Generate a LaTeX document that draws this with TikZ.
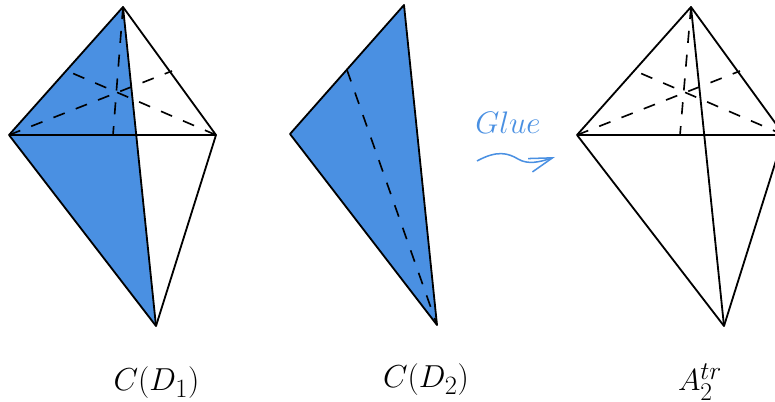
\documentclass[tikz,border=0pt]{standalone}
\usepackage{amsmath}
\usepackage{xcolor}
\usetikzlibrary{arrows.meta}
\definecolor{glueblue}{HTML}{4A90E2}

\begin{document}
\begin{tikzpicture}[
  x=0.03cm, y=-0.03cm,
  edge/.style  = {line width=1.55pt, line join=round},
  hidden/.style = {line width=1.4pt, dash pattern=on 10.3pt off 10.1pt},
  face/.style  = {fill=glueblue},
  lab/.style   = {font=\Huge, inner sep=0pt, transform shape, scale=1.09},
]
\clip (0,0) rectangle (775,402);

% first pyramid
\coordinate (top1)   at (123,7);
\coordinate (left1)  at (9,135);
\coordinate (right1) at (216,135);
\coordinate (bot1)   at (156,326);
\coordinate (foot1)  at (113,135);
\coordinate (backl1) at (72,73);
\coordinate (backr1) at (172,71);
\fill[face] (left1) -- (top1) -- (bot1) -- cycle;
\draw[hidden] (top1) -- (foot1);
\draw[hidden] (left1) -- (backr1);
\draw[hidden] (right1) -- (backl1);
\draw[edge] (left1) -- (top1) -- (right1) -- (bot1) -- cycle;
\draw[edge] (left1) -- (right1);
\draw[edge] (top1) -- (bot1);
\node[lab] (cd1) at (156.5,383) {$C(D_1)$};

% the cut piece
\coordinate (top2)  at (404,5);
\coordinate (left2) at (290,134);
\coordinate (bot2)  at (437,325);
\coordinate (back2) at (347,70);
\fill[face] (left2) -- (top2) -- (bot2) -- cycle;
\draw[hidden] (back2) -- (bot2);
\draw[edge] (left2) -- (top2) -- (bot2) -- cycle;
\node[lab] (cd2) at (426,380) {$C(D_2)$};

% glue arrow
\node[lab, scale=0.98, text=glueblue] (glue) at (508,123) {$Glue$};
\coordinate (gluea) at (477,161);
\coordinate (glueb) at (555,157);
\draw[glueblue, line width=1.3pt, -{Straight Barb[length=20pt,width=12pt]}]
  (gluea) .. controls (497,150) and (508,153) .. (518,159)
          .. controls (528,165) and (540,162) .. (glueb);

% result
\coordinate (top3)   at (691,7);
\coordinate (left3)  at (577,135);
\coordinate (right3) at (784,135);
\coordinate (bot3)   at (724,326);
\coordinate (foot3)  at (680,135);
\coordinate (backl3) at (640,73);
\coordinate (backr3) at (740,71);
\draw[hidden] (top3) -- (foot3);
\draw[hidden] (left3) -- (backr3);
\draw[hidden] (right3) -- (backl3);
\draw[edge] (left3) -- (top3) -- (right3) -- (bot3) -- cycle;
\draw[edge] (left3) -- (right3);
\draw[edge] (top3) -- (bot3);
\node[lab, scale=0.96] (atr) at (700,382) {$A_2^{tr}$};
\end{tikzpicture}
\end{document}
